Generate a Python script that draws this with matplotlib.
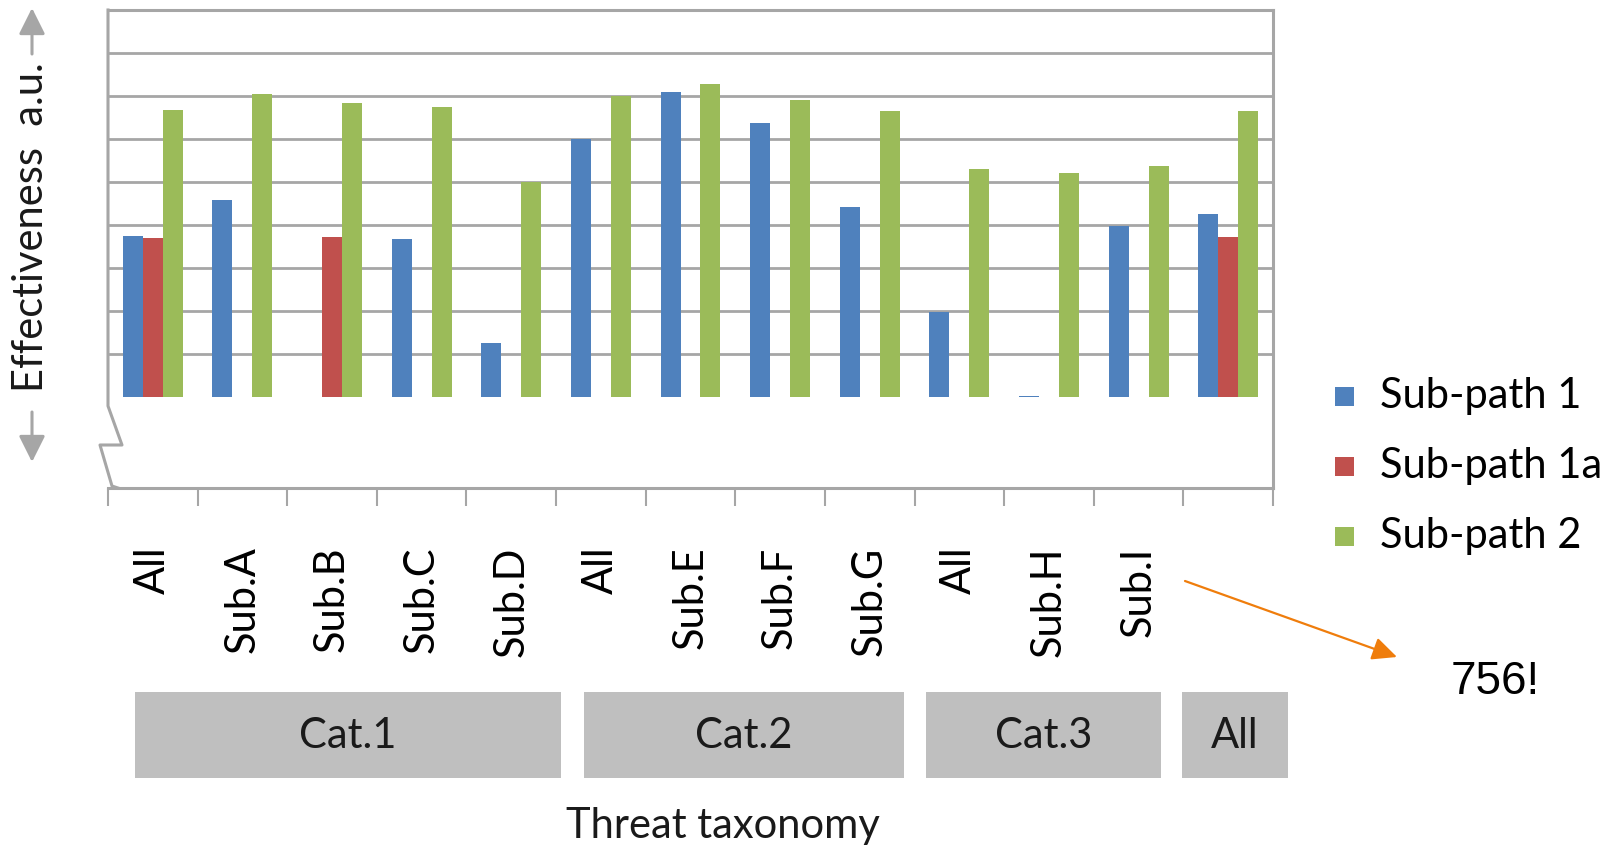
import matplotlib
matplotlib.use("Agg")
import matplotlib.pyplot as plt
from matplotlib.patches import Rectangle, FancyArrowPatch
import numpy as np

# categories along the threat taxonomy (last "All" column has no label)
labels = ["All", "Sub.A", "Sub.B", "Sub.C", "Sub.D",
          "All", "Sub.E", "Sub.F", "Sub.G",
          "All", "Sub.H", "Sub.I", ""]

sub_path_1 = [3.74, 4.59, 0.0, 3.67, 1.25, 5.99, 7.10, 6.38, 4.41, 1.97, 0.03, 3.97, 4.25]
sub_path_1a = [3.70, 0.0, 3.71, 0.0, 0.0, 0.0, 0.0, 0.0, 0.0, 0.0, 0.0, 0.0, 3.71]
sub_path_2 = [6.68, 7.05, 6.84, 6.75, 5.01, 7.00, 7.28, 6.91, 6.66, 5.29, 5.20, 5.36, 6.66]

series_names = ["Sub-path 1", "Sub-path 1a", "Sub-path 2"]
colors = ["#4f81bd", "#c0504d", "#9bbb59"]

groups = ["Cat.1", "Cat.2", "Cat.3", "All"]

W, H = 1612, 848
FONT = "Lato"
FS = 30
grey = "#a6a6a6"

fig = plt.figure(figsize=(W / 100, H / 100), dpi=100)
ax = fig.add_axes([108 / W, 1 - 488 / H, (1273 - 108) / W, (488 - 10) / H])

n = len(labels)
x = np.arange(n) + 0.5
bw = 0.223
for k, vals in enumerate([sub_path_1, sub_path_1a, sub_path_2]):
    ax.bar(x + (k - 1) * bw, vals, width=bw, color=colors[k], zorder=3)

ax.set_xlim(0, n)
ax.set_ylim(-2.12, 9)

# horizontal grid
for g in range(1, 9):
    ax.axhline(g, color=grey, lw=2, zorder=1)

for side in ["top", "right", "bottom"]:
    ax.spines[side].set_color(grey)
    ax.spines[side].set_linewidth(2.2)
ax.spines["left"].set_visible(False)

# broken left axis drawn by hand
px = np.array([108, 108, 122, 100, 112, 118])
py = np.array([10, 406, 445, 445, 486, 488])
ax.plot((px - 108) / 1165, (488 - py) / 478, color=grey, lw=2.2,
        transform=ax.transAxes, clip_on=False, zorder=4)

ax.set_yticks([])
ax.set_xticks(x[:12])
ax.set_xticklabels(labels[:12], rotation=90, fontsize=FS, family=FONT,
                   va="top", ha="center", color="black")
ax.tick_params(axis="x", which="major", length=0, pad=42)
ax.set_xticks(np.arange(n + 1), minor=True)
ax.tick_params(axis="x", which="minor", length=13, width=1.5, color=grey,
               direction="out")

# overlay in pixel coordinates for annotations
ov = fig.add_axes([0, 0, 1, 1], zorder=5)
ov.set_xlim(0, W)
ov.set_ylim(H, 0)
ov.axis("off")

# category boxes
spans = [(135, 561), (584, 904), (926, 1161), (1182, 1288)]
for name, (a, b) in zip(groups, spans):
    ov.add_patch(Rectangle((a, 692), b - a, 86, facecolor="#bfbfbf",
                           edgecolor="none"))
    ov.text((a + b) / 2, 736, name, ha="center", va="center",
            fontsize=FS, family=FONT, color="#1a1a1a")

ov.text(723, 826, "Threat taxonomy", ha="center", va="center",
        fontsize=FS, family=FONT, color="#1a1a1a")

# y-axis label with arrows
ov.text(31, 227, "Effectiveness  a.u.", rotation=90, ha="center",
        va="center", fontsize=FS, family=FONT, color="#1a1a1a")
for a, b in [((32, 54), (32, 8)), ((32, 412), (32, 462))]:
    ov.add_patch(FancyArrowPatch(a, b, arrowstyle="-|>,head_length=1.6,head_width=0.8",
                                 mutation_scale=10, color=grey, lw=2.2,
                                 shrinkA=0, shrinkB=0))

# legend
for k, name in enumerate(series_names):
    cy = 396 + 70 * k
    ov.add_patch(Rectangle((1335, cy - 9.5), 19, 19, facecolor=colors[k],
                           edgecolor="none"))
    ov.text(1380, cy, name, ha="left", va="center", fontsize=FS,
            family=FONT, color="black")

# note
ov.add_patch(FancyArrowPatch((1185, 581), (1397, 657),
                             arrowstyle="-|>,head_length=1.5,head_width=0.7",
                             mutation_scale=10, color="#ef7d0c", lw=1.6,
                             shrinkA=0, shrinkB=0))
ov.text(1495, 682, "756!", ha="center", va="center", fontsize=33,
        family="Liberation Sans", color="black")

fig.savefig("out.png", dpi=100)
